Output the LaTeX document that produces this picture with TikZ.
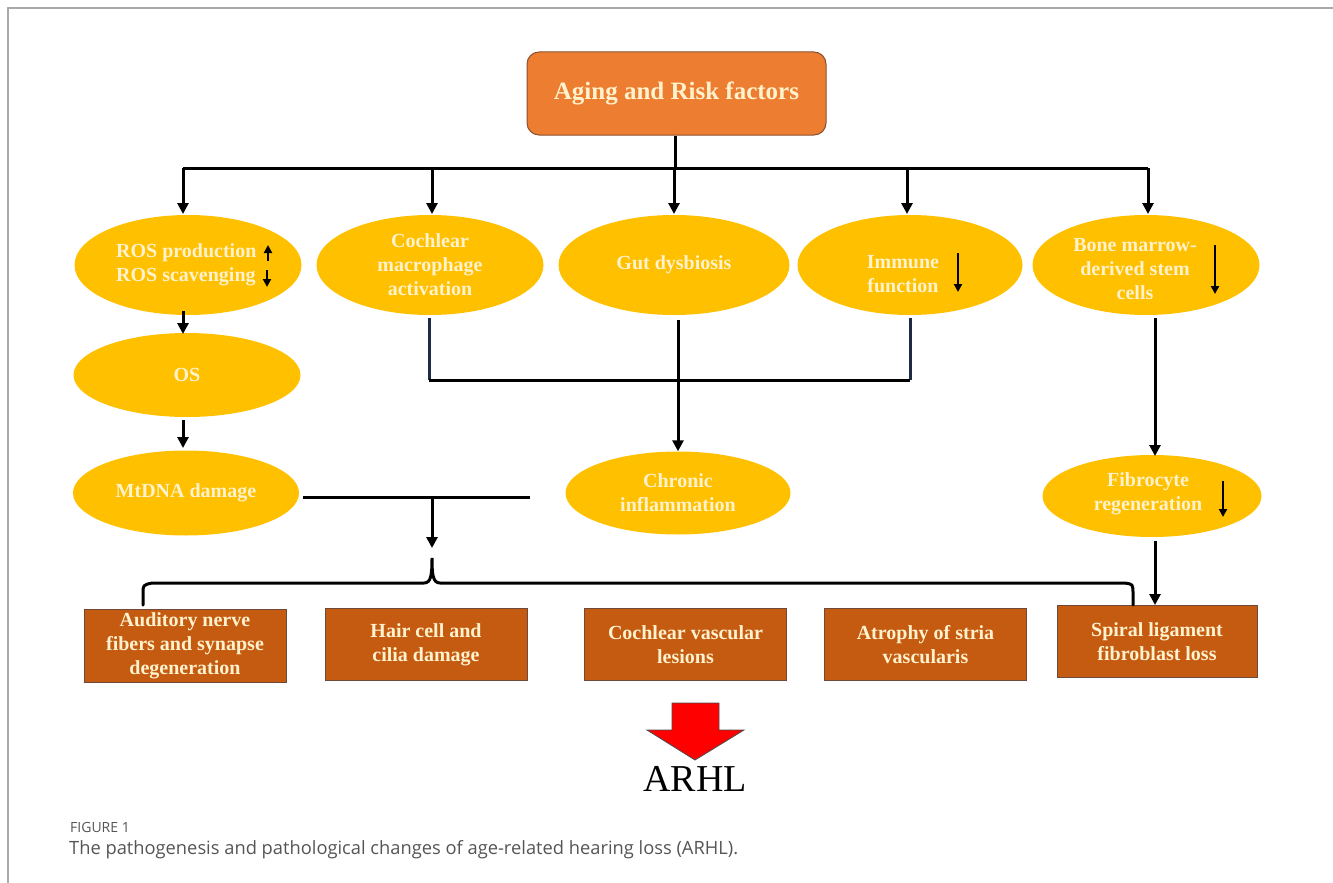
\documentclass[tikz,border=0pt]{standalone}
\usepackage{fontspec}
\setmainfont{Liberation Serif}
\newfontfamily\capfont{Open Sans}
\usetikzlibrary{shapes.geometric,arrows.meta}
\definecolor{topor}{HTML}{ED7D31}
\definecolor{topbd}{HTML}{8A5030}
\definecolor{ell}{HTML}{FFC000}
\definecolor{boxc}{HTML}{C55A11}
\definecolor{boxbd}{HTML}{6E4A3A}
\definecolor{txt}{HTML}{FFF2CC}
\definecolor{navy}{HTML}{1F2A44}
\definecolor{capg}{HTML}{555555}
\definecolor{frameg}{HTML}{AAAAAA}
\tikzset{
  ellnode/.style={ellipse,fill=ell,draw=none,inner sep=0pt,minimum width=227pt,minimum height=100pt,
    text=txt,font=\fontsize{20}{24}\selectfont\bfseries,align=center},
  ltxt/.style={text=txt,font=\fontsize{20}{24}\selectfont\bfseries,inner sep=0pt},
  boxnode/.style={rectangle,fill=boxc,draw=boxbd,line width=1pt,minimum width=202pt,minimum height=72pt,
    text=txt,font=\fontsize{20}{24}\selectfont\bfseries,align=center,inner sep=0pt},
  conn/.style={line width=3pt,black},
  arr/.style={conn,-{Triangle[length=11pt,width=11pt]}},
  smallarr/.style={line width=2.6pt,black,-{Triangle[length=8pt,width=8pt]}},
}
\begin{document}
\begin{tikzpicture}[x=1pt,y=-1pt]
\useasboundingbox (0,0) rectangle (1333,883);
% frame
\draw[frameg,line width=1.2pt] (8,883) -- (8,8) -- (1333,8);
% top
\node[rectangle,rounded corners=12pt,fill=topor,draw=topbd,line width=1pt,minimum width=299pt,minimum height=83pt,
  text=txt,font=\fontsize{25}{28}\selectfont\bfseries] (top) at (676.5,93.5) {Aging and Risk factors};
% row 1 ellipses
\node[ellnode] (ros) at (188,265) {};
\node[ltxt,align=left,anchor=west] (rostxt) at (116,265) {ROS production\\ROS scavenging};
\draw[smallarr] (268,261) -- (268,245);
\draw[smallarr] (267,270) -- (267,287);
\node[ellnode] (coch) at (430,265) {Cochlear\\macrophage\\activation};
\node[ellnode,minimum width=231pt] (gut) at (674,265) {Gut dysbiosis};
\node[ellnode,minimum width=225pt] (imm) at (910,265) {};
\node[ltxt,align=center] (immtxt) at (903,274) {Immune\\function};
\draw[smallarr] (958,253) -- (958,292);
\node[ellnode] (bone) at (1146,265) {};
\node[ltxt,align=center] (bonetxt) at (1135,269) {Bone marrow-\\derived stem\\cells};
\draw[smallarr] (1215,245) -- (1215,294);
% column 1
\node[ellnode,minimum height=84pt] (os) at (187,375) {OS};
\node[ellnode,minimum width=226pt,minimum height=85pt] (mt) at (186,493) {MtDNA damage};
\node[ellnode,minimum width=225pt,minimum height=83pt] (chr) at (678,493) {Chronic\\inflammation};
\node[ellnode,minimum width=219pt,minimum height=82pt] (fib) at (1152,496) {};
\node[ltxt,align=center] (fibtxt) at (1148,494) {Fibrocyte\\regeneration};
\draw[smallarr] (1223,481) -- (1223,517);
% bottom boxes
\node[boxnode,minimum height=73pt] (aud) at (185,645.5) {Auditory nerve\\fibers and synapse\\degeneration};
\node[boxnode] (hair) at (426,644.5) {Hair cell and\\cilia damage};
\node[boxnode] (vasc) at (685.5,644.5) {Cochlear vascular\\lesions};
\node[boxnode] (atr) at (925.5,644.5) {Atrophy of stria\\vascularis};
\node[boxnode,minimum width=200pt] (spi) at (1157,641.5) {Spiral ligament\\fibroblast loss};
% top distribution
\coordinate (j) at (675,168);
\coordinate (jl) at (183,168);
\coordinate (jr) at (1148,168);
\draw[conn] (top.south -| j) -- (j);
\draw[conn] (jl) -- (jr);
\draw[arr] (jl) -- (183,214);
\draw[arr] (432,168) -- (432,214);
\draw[arr] (674,168) -- (674,214);
\draw[arr] (907,168) -- (907,214);
\draw[arr] (jr) -- (1148,214);
% column 1 arrows
\draw[arr] (183,311) -- (183,334);
\draw[arr] (183,420) -- (183,448);
% convergence to chronic inflammation
\draw[line width=3pt,navy] (429,318) -- (429,380);
\draw[line width=3pt,navy] (910,318) -- (910,380);
\draw[conn] (429,380) -- (910,380);
\draw[arr] (678,320) -- (chr.north);
% bone marrow -> fibrocyte -> spiral
\draw[arr] (1155,318) -- (1155,456);
\draw[arr] (1155,541) -- (1155,605);
% mtDNA -- chronic
\coordinate (mid) at (432,497);
\draw[conn] (303,497) -- (530,497);
\draw[arr] (mid) -- (432,548);
% brace
\draw[conn,line cap=round] (143,605) -- (143,594) .. controls (143,585) .. (152,583) -- (424,583)
  .. controls (431,583) and (432,575) .. (432,558)
  .. controls (432,575) and (433,583) .. (440,583) -- (1124,583)
  .. controls (1133,584) .. (1133,594) -- (1133,605);
% ARHL arrow
\draw[fill=red,draw=black!70,line width=0.8pt] (672,703) -- (719,703) -- (719,730) -- (744,730) -- (695,760) -- (647,730) -- (672,730) -- cycle;
\node[font=\fontsize{38}{40}\selectfont,inner sep=0pt] (arhl) at (695,779) {ARHL};
% caption
\node[anchor=west,inner sep=0pt,text=capg,font=\capfont\fontsize{14}{16}\selectfont] (fig) at (70,827) {FIGURE 1};
\node[anchor=west,inner sep=0pt,text=capg,font=\capfont\fontsize{18.3}{21}\selectfont] (cap) at (69,850) {The pathogenesis and pathological changes of age-related hearing loss (ARHL).};
\end{tikzpicture}
\end{document}
